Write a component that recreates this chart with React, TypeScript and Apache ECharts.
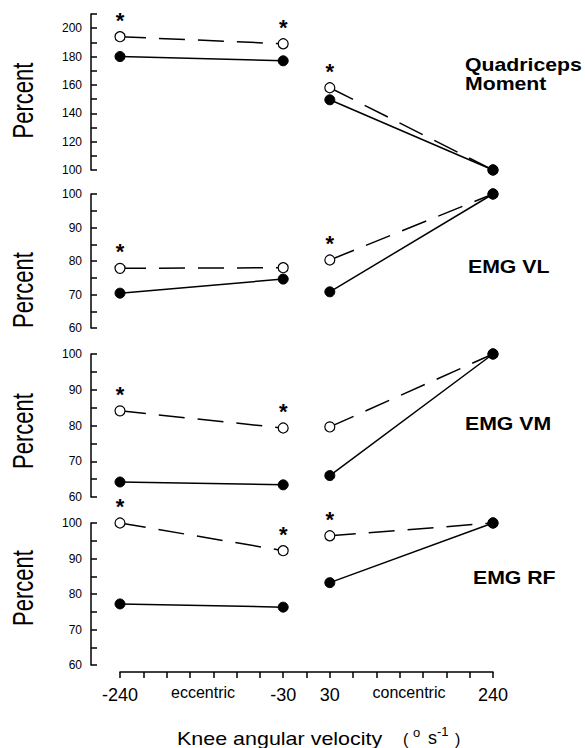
import React, { useEffect, useRef } from 'react';
import * as echarts from 'echarts';

// Knee angular velocity categories and their slots on the 16-interval velocity axis
const velocityLabels = ['-240', '-30', '30', '240'];
const velocitySlots = [0, 7, 9, 16];

// Quadriceps moment (percent)
const quadFilled = [180, 177, 149.5, 100];
const quadOpen = [194, 189, 158, 100];
const quadSig = [true, true, true, false];

// EMG VL (percent)
const vlFilled = [70.4, 74.6, 70.8, 100];
const vlOpen = [77.8, 78, 80.3, 100];
const vlSig = [true, false, true, false];

// EMG VM (percent)
const vmFilled = [64.2, 63.4, 66, 100];
const vmOpen = [84.1, 79.3, 79.6, 100];
const vmSig = [true, true, false, false];

// EMG RF (percent)
const rfFilled = [77.2, 76.3, 83.2, 100];
const rfOpen = [100, 92.2, 96.4, 100];
const rfSig = [true, true, true, false];

const panelTitles = ['Quadriceps\nMoment', 'EMG VL', 'EMG VM', 'EMG RF'];
const yMins = [100, 60, 60, 60];
const yMaxs = [210, 100, 100, 100];
const yIntervals = [10, 5, 5, 5];
const yLabelSteps = [20, 10, 10, 10];

const FONT = '"Liberation Sans", Arial, Helvetica, sans-serif';

export default function App() {
  const ref = useRef<HTMLDivElement>(null);

  useEffect(() => {
    const chart = echarts.init(ref.current as HTMLDivElement, null, { renderer: 'svg' });

    const panels = [
      { filled: quadFilled, open: quadOpen, sig: quadSig },
      { filled: vlFilled, open: vlOpen, sig: vlSig },
      { filled: vmFilled, open: vmOpen, sig: vmSig },
      { filled: rfFilled, open: rfOpen, sig: rfSig },
    ];

    const gridLayout = [
      { top: 14, height: 156 },
      { top: 194, height: 134 },
      { top: 354, height: 143 },
      { top: 523, height: 142 },
    ];

    const grid = gridLayout.map((g) => ({ left: 120, right: 92, top: g.top, height: g.height }));

    const xAxis = gridLayout.map((_, i) => ({
      type: 'value',
      gridIndex: i,
      min: 0,
      max: 16,
      interval: 1,
      show: i === 3,
      offset: 7,
      axisLine: { show: true, onZero: false, lineStyle: { color: '#000', width: 1.5 } },
      axisTick: { show: true, inside: false, length: 6, lineStyle: { color: '#000', width: 1.5 } },
      axisLabel: {
        show: true,
        margin: 14,
        fontSize: 18,
        fontFamily: FONT,
        color: '#000',
        formatter: (v: number) => {
          const k = velocitySlots.indexOf(v);
          return k >= 0 ? velocityLabels[k] : '';
        },
      },
      splitLine: { show: false },
    }));

    const yAxis = gridLayout.map((_, i) => ({
      type: 'value',
      gridIndex: i,
      min: yMins[i],
      max: yMaxs[i],
      interval: yIntervals[i],
      offset: 29,
      axisLine: { show: true, onZero: false, lineStyle: { color: '#000', width: 1.5 } },
      axisTick: { show: true, inside: true, length: 6, lineStyle: { color: '#000', width: 1.5 } },
      axisLabel: {
        show: true,
        margin: 9,
        fontSize: 12,
        fontFamily: FONT,
        color: '#000',
        formatter: (v: number) => ((v - yMins[i]) % yLabelSteps[i] === 0 && v <= 200 ? String(v) : ''),
      },
      splitLine: { show: false },
    }));

    const series: any[] = [];
    panels.forEach((p, i) => {
      const segments = [
        [0, 1],
        [2, 3],
      ];
      segments.forEach((seg) => {
        series.push({
          type: 'line',
          xAxisIndex: i,
          yAxisIndex: i,
          silent: true,
          z: 2,
          symbol: 'circle',
          symbolSize: 10,
          lineStyle: { color: '#000', width: 1.5, type: [26, 13] },
          itemStyle: { color: '#fff', borderColor: '#000', borderWidth: 1.2 },
          label: {
            show: false,
            position: 'top',
            distance: 0,
            formatter: '*',
            fontSize: 22,
            fontWeight: 'bold',
            fontFamily: FONT,
            color: '#000',
          },
          data: seg.map((k) => ({
            value: [velocitySlots[k], p.open[k]],
            label: { show: p.sig[k] },
          })),
        });
        series.push({
          type: 'line',
          xAxisIndex: i,
          yAxisIndex: i,
          silent: true,
          z: 3,
          symbol: 'circle',
          symbolSize: 10,
          lineStyle: { color: '#000', width: 1.5, type: 'solid' },
          itemStyle: { color: '#000', borderColor: '#000', borderWidth: 1 },
          data: seg.map((k) => [velocitySlots[k], p.filled[k]]),
        });
      });
    });

    const percentCenters = [100.5, 290, 431, 588];
    const titlePos = [
      { x: 465, y: 74 },
      { x: 468, y: 267 },
      { x: 465, y: 424 },
      { x: 473, y: 578 },
    ];

    const txt = (text: string, x: number, y: number, fontSize: number, extra: any = {}) => ({
      type: 'text',
      x,
      y,
      silent: true,
      ...extra,
      style: {
        text,
        fontSize,
        fontFamily: FONT,
        fill: '#000',
        align: 'left',
        verticalAlign: 'middle',
        ...(extra.style || {}),
      },
    });

    const graphic: any[] = [];
    percentCenters.forEach((cy) => {
      graphic.push({
        type: 'text',
        x: 22.5,
        y: cy,
        rotation: Math.PI / 2,
        scaleY: 1.3,
        silent: true,
        style: {
          text: 'Percent',
          fontSize: 22,
          fontFamily: FONT,
          fill: '#000',
          align: 'center',
          verticalAlign: 'middle',
        },
      });
    });
    panelTitles.forEach((t, i) => {
      graphic.push({
        type: 'text',
        x: titlePos[i].x,
        y: titlePos[i].y,
        scaleX: 1.18,
        silent: true,
        style: {
          text: t,
          fontSize: 18,
          fontWeight: 'bold',
          fontFamily: FONT,
          fill: '#000',
          align: 'left',
          verticalAlign: 'middle',
          lineHeight: 19,
        },
      });
    });
    graphic.push(
      txt('eccentric', 203, 692, 16, { style: { align: 'center' } }),
      txt('concentric', 409, 692, 16, { style: { align: 'center' } }),
      txt('Knee angular velocity', 177, 738, 19, { scaleX: 1.13 }),
      txt('(', 403, 739, 16),
      txt('o', 413, 732, 13),
      txt('s', 428, 738, 18),
      txt('-1', 437, 731, 13),
      txt(')', 455, 739, 16)
    );

    chart.setOption({
      animation: false,
      backgroundColor: '#fff',
      grid,
      xAxis,
      yAxis,
      series,
      graphic,
    });

    return () => chart.dispose();
  }, []);

  return (
    <div
      ref={ref}
      style={{ position: 'absolute', left: 0, top: 0, width: 585, height: 748, background: '#fff' }}
    />
  );
}
